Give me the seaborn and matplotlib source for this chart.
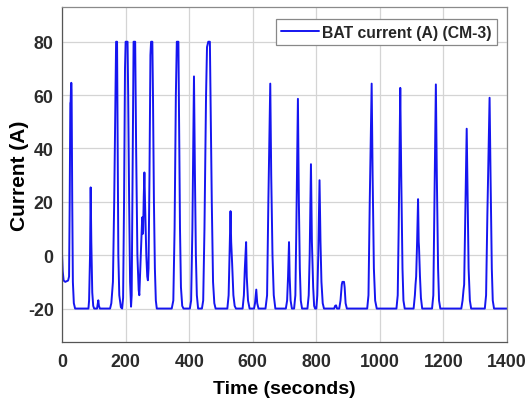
import matplotlib
matplotlib.use("Agg")
import matplotlib.pyplot as plt
import seaborn as sns
import pandas as pd

# ---- data (breakpoints of the current trace) ----
time_s = [
    0, 2, 5, 10, 19, 22, 24, 26, 27, 28, 29, 30, 32, 34, 37, 41,
    83, 85, 88, 90, 92, 95, 98, 101, 110, 112, 114, 116, 119,
    151, 155, 160, 164, 168, 170, 173, 175, 177, 180, 185, 189,
    192, 195, 198, 200, 206, 208, 211, 214, 217,
    219, 222, 225, 230, 233, 237, 241, 243,
    246, 250, 252, 253, 254, 255, 257, 259, 261, 265, 268, 270,
    272, 275, 278, 280, 284, 286, 289, 292, 295, 298,
    345, 350, 354, 358, 361, 366, 368, 371, 374, 378, 382,
    402, 406, 410, 415, 418, 421, 424, 428,
    440, 444, 448, 453, 456, 458, 460, 465, 467, 471, 475, 479, 483,
    520, 524, 527, 530, 532, 535, 539, 543, 547,
    568, 572, 575, 579, 581, 585, 590,
    604, 607, 611, 614, 618,
    640, 645, 649, 655, 658, 662, 666, 671,
    704, 708, 711, 714, 716, 719, 723,
    730, 734, 737, 742, 745, 748, 751, 755,
    772, 776, 779, 783, 786, 790, 793, 796,
    800, 803, 806, 810, 813, 816, 820, 824,
    856, 859, 862, 865,
    872, 876, 880, 882, 887, 889, 892, 896,
    960, 964, 968, 974, 977, 981, 985, 990,
    1052, 1056, 1059, 1064, 1067, 1071, 1074, 1078,
    1106, 1110, 1112, 1114, 1117, 1120, 1122, 1123, 1126, 1129, 1133,
    1164, 1168, 1171, 1176, 1179, 1183, 1186, 1190,
    1256, 1260, 1263, 1265, 1268, 1273, 1276, 1279, 1283, 1287,
    1330, 1334, 1338, 1345, 1348, 1352, 1355, 1359,
    1400,
]
current_a = [
    0, -6, -9.5, -10, -9.5, -8, 20, 57, 57.5, 62, 64.6, 62, 20, -10, -18, -20,
    -20, -17, 0, 25.4, 5, -14, -19, -20, -20, -18.5, -16.9, -19, -20,
    -20, -18, -10, 20, 60, 80, 80, 40, 0, -15, -19.5, -20,
    -16, 20, 70, 80, 80, 60, 20, -10, -19.3,
    -15, 30, 80, 80, 40, 0, -13, -15,
    -5, 8, 14, 14.3, 8, 9, 22, 31, 20, 0, -8, -9.4,
    -5, 30, 75, 80, 80, 60, 20, -5, -17, -20,
    -20, -17, 10, 60, 80, 80, 50, 10, -12, -19, -20,
    -20, -17, 10, 67, 30, 0, -15, -20,
    -20, -17, 10, 60, 78, 79, 80, 80, 60, 20, -10, -18, -20,
    -20, -15, 0, 16.5, 5, -3, -15, -19, -20,
    -20, -15, -5, 4.9, -8, -17, -20,
    -20, -18, -12.9, -18, -20,
    -20, -15, 20, 64.3, 30, 0, -15, -20,
    -20, -17, -8, 4.9, -8, -17, -20,
    -20, -15, 10, 58.6, 20, -5, -17, -20,
    -20, -15, 0, 34.1, 5, -12, -19, -20,
    -20, -15, 0, 28.1, 5, -10, -18, -20,
    -20, -19, -18.8, -20,
    -20, -17, -11, -10, -10, -12, -18, -20,
    -20, -15, 20, 64.3, 30, -5, -17, -20,
    -20, -15, 10, 62.7, 30, -5, -17, -20,
    -20, -15, -11, -8, 5, 21, 5, 3, -8, -16, -20,
    -20, -15, 15, 64, 30, -5, -17, -20,
    -20, -17, -13, -11, 10, 47.4, 20, -5, -17, -20,
    -20, -15, 15, 59, 30, -5, -17, -20,
    -20,
]
x_ticks = [0, 200, 400, 600, 800, 1000, 1200, 1400]
y_ticks = [-20, 0, 20, 40, 60, 80]
series_label = "BAT current (A) (CM-3)"

df = pd.DataFrame({"Time": time_s, "Current": current_a})

sns.set_style("whitegrid")
plt.rcParams["font.family"] = ["Liberation Sans", "DejaVu Sans"]
plt.rcParams["font.weight"] = "bold"
plt.rcParams["axes.unicode_minus"] = False

fig = plt.figure(figsize=(5.26, 4.02), dpi=100)
ax = fig.add_axes([0.118, 0.147, 0.846, 0.833])

sns.lineplot(data=df, x="Time", y="Current", ax=ax, color="#1515f0",
             linewidth=1.4, sort=False, estimator=None, label=series_label)

ax.set_xlim(0, 1400)
ax.set_ylim(-32.5, 93)
ax.set_xticks(x_ticks)
ax.set_yticks(y_ticks)
ax.grid(True, color="#d4d4d4", linewidth=0.9)
ax.tick_params(axis="both", length=0, labelsize=12.8, colors="#2b2b2b")
ax.tick_params(axis="x", pad=8)
ax.tick_params(axis="y", pad=6)
for lab in ax.get_xticklabels() + ax.get_yticklabels():
    lab.set_fontweight("bold")
for sp in ax.spines.values():
    sp.set_color("#8a8a8a")
    sp.set_linewidth(0.9)
ax.spines["left"].set_color("#555555")
ax.spines["bottom"].set_color("#555555")

ax.set_xlabel("Time (seconds)", fontsize=14, fontweight="bold", color="black", labelpad=7)
ax.set_ylabel("Current (A)", fontsize=15, fontweight="bold", color="black")
ax.yaxis.set_label_coords(-0.075, 0.5)

leg = ax.legend(loc="upper right", fontsize=11.3, frameon=True, fancybox=False,
                edgecolor="#888888", framealpha=1, borderpad=0.35,
                handlelength=2.4, handletextpad=0.2, borderaxespad=0,
                bbox_to_anchor=(0.9775, 0.964))
for t in leg.get_texts():
    t.set_fontweight("bold")
leg.get_frame().set_linewidth(0.9)

fig.savefig("out.png", dpi=100)
